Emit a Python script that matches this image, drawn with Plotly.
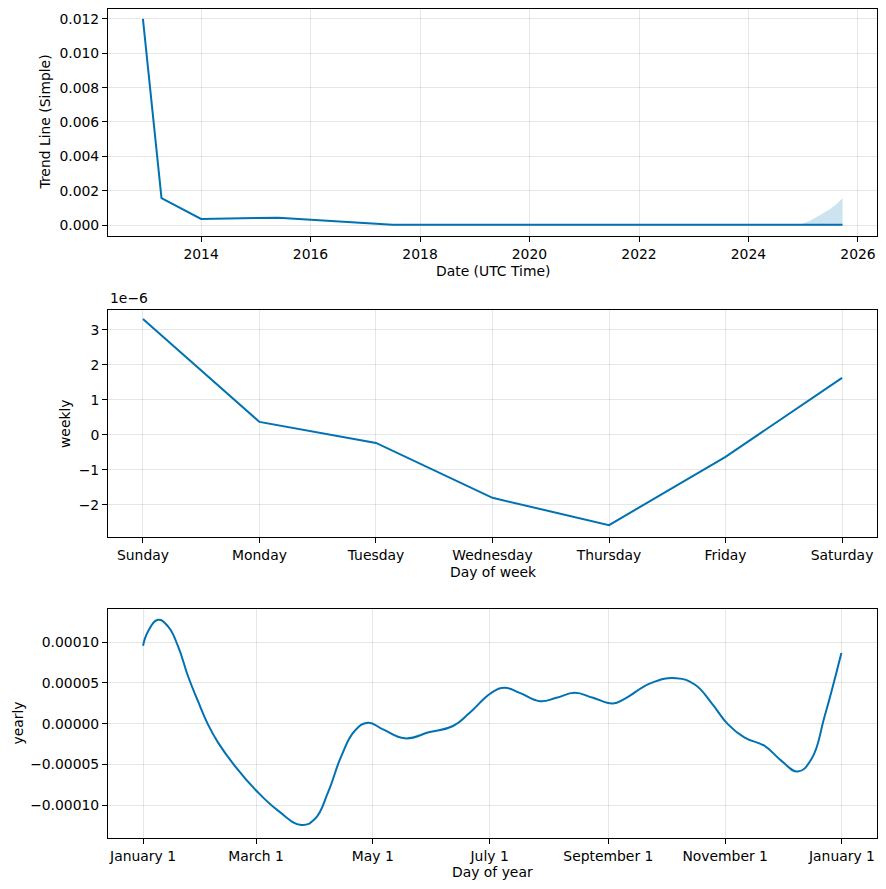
import pandas as pd
import plotly.graph_objects as go
from plotly.subplots import make_subplots

# ---- Trend data ----
trend_dates = ["2012-12-09", "2013-04-12", "2014-01-01", "2015-06-01", "2017-07-01", "2025-09-20"]
trend_values = [0.0120, 0.00156, 0.00035, 0.00043, 0.00002, 0.00001]

band_dates = ["2024-12-10", "2025-02-14", "2025-04-20", "2025-06-25", "2025-08-11", "2025-09-20"]
band_upper = [0.00001, 0.00025, 0.00057, 0.00091, 0.00122, 0.00156]
band_lower = [0.00001, 0.00001, 0.00001, 0.00001, 0.00001, 0.00001]

# ---- Weekly data ----
week_days = ["Sunday", "Monday", "Tuesday", "Wednesday", "Thursday", "Friday", "Saturday"]
weekly_values = [3.31e-6, 0.37e-6, -0.23e-6, -1.80e-6, -2.58e-6, -0.63e-6, 1.63e-6]
weekly_tickvals = [-2e-6, -1e-6, 0, 1e-6, 2e-6, 3e-6]
weekly_ticktext = ["\u22122", "\u22121", "0", "1", "2", "3"]

# ---- Yearly data (day of year offset, value in 1e-5) ----
yearly_days = [0, 2.6, 7.8, 13.1, 18.3, 23.5, 28.7, 33.9, 39.2, 47.9, 59.2, 70.5, 82.7, 89.7,
               96.6, 103.6, 110.5, 117.5, 125.3, 136.7, 149.7, 161.9, 170.6, 181.9, 188.9,
               196.7, 207.2, 215.9, 225.4, 235, 245.4, 251.5, 265.5, 278.5, 288.1, 296.8,
               305.5, 314.2, 324.6, 333.4, 342, 349, 356, 364.7]
yearly_values_e5 = [9.55, 11.3, 12.72, 11.9, 9.47, 5.81, 2.76, -0.08, -2.32, -5.16, -8.21, -10.65,
                    -12.4, -11.67, -8.41, -3.94, -0.89, 0.12, -0.69, -1.79, -1.02, -0.28, 1.34,
                    3.78, 4.39, 3.78, 2.76, 3.17, 3.78, 3.17, 2.48, 3.05, 5.0, 5.57, 4.8, 2.56,
                    -0.08, -1.71, -2.72, -4.55, -5.85, -4.35, 0.94, 8.66]
year_tick_dates = ["2017-01-01", "2017-03-01", "2017-05-01", "2017-07-01", "2017-09-01", "2017-11-01", "2018-01-01"]
year_tick_text = ["January 1", "March 1", "May 1", "July 1", "September 1", "November 1", "January 1"]

LINE = "#0072B2"
GRID = "rgba(128,128,128,0.2)"
FONT = "DejaVu Sans"
FS = 13.9

yearly_dates = [pd.Timestamp("2017-01-01") + pd.Timedelta(days=d) for d in yearly_days]
yearly_values = [v * 1e-5 for v in yearly_values_e5]

fig = make_subplots(rows=3, cols=1)

fig.add_trace(go.Scatter(x=band_dates, y=band_lower, mode="lines", line=dict(width=0),
                         showlegend=False, hoverinfo="skip"), row=1, col=1)
fig.add_trace(go.Scatter(x=band_dates, y=band_upper, mode="lines", line=dict(width=0),
                         fill="tonexty", fillcolor="rgba(0,114,178,0.2)",
                         showlegend=False, hoverinfo="skip"), row=1, col=1)
fig.add_trace(go.Scatter(x=trend_dates, y=trend_values, mode="lines",
                         line=dict(color=LINE, width=2), showlegend=False), row=1, col=1)

fig.add_trace(go.Scatter(x=list(range(7)), y=weekly_values, mode="lines",
                         line=dict(color=LINE, width=2), showlegend=False), row=2, col=1)

fig.add_trace(go.Scatter(x=yearly_dates, y=yearly_values, mode="lines",
                         line=dict(color=LINE, width=2, shape="spline", smoothing=1.3),
                         showlegend=False), row=3, col=1)

common = dict(showline=True, linecolor="black", linewidth=1, mirror=True,
              ticks="outside", ticklen=5, tickcolor="black", tickwidth=1,
              showgrid=True, gridcolor=GRID, gridwidth=1, zeroline=False,
              automargin=False,
              tickfont=dict(family=FONT, size=FS, color="black"))

def py(p):
    return (838 - p) / 829.0

# The page body has an 8px margin, so the figure is shrunk/shifted to compensate.
fig.update_layout(
    width=878, height=881,
    margin=dict(l=100, r=9, t=1, b=51),
    paper_bgcolor="white", plot_bgcolor="white",
    font=dict(family=FONT, size=FS, color="black"),
    showlegend=False,
    xaxis=dict(domain=[0, 1], anchor="y", type="date",
               range=["2012-04-20", "2026-05-08"],
               tickvals=[f"{y}-01-01" for y in range(2014, 2027, 2)],
               ticktext=[str(y) for y in range(2014, 2027, 2)], **common),
    yaxis=dict(domain=[py(236), py(9)], anchor="x", range=[-0.00064, 0.01258],
               tickvals=[0, 0.002, 0.004, 0.006, 0.008, 0.010, 0.012],
               tickformat=".3f", **common),
    xaxis2=dict(domain=[0, 1], anchor="y2", range=[-0.3, 6.3],
                tickvals=list(range(7)), ticktext=week_days, **common),
    yaxis2=dict(domain=[py(537), py(310)], anchor="x2", range=[-2.92e-6, 3.57e-6],
                tickvals=weekly_tickvals, ticktext=weekly_ticktext, **common),
    xaxis3=dict(domain=[0, 1], anchor="y3", type="date",
                range=[pd.Timestamp("2017-01-01") - pd.Timedelta(days=18.3),
                       pd.Timestamp("2017-01-01") + pd.Timedelta(days=383.3)],
                tickvals=year_tick_dates, ticktext=year_tick_text, **common),
    yaxis3=dict(domain=[py(838), py(609)], anchor="x3", range=[-0.000140, 0.0001405],
                tickvals=[-0.0001, -0.00005, 0, 0.00005, 0.0001],
                tickformat=".5f", **common),
)

ann = dict(xref="paper", yref="paper", showarrow=False,
           font=dict(family=FONT, size=FS, color="black"))
fig.add_annotation(text="Date (UTC Time)", x=0.5, y=py(271), xanchor="center", yanchor="middle", **ann)
fig.add_annotation(text="Day of week", x=0.5, y=py(572), xanchor="center", yanchor="middle", **ann)
fig.add_annotation(text="Day of year", x=0.5, y=py(872), xanchor="center", yanchor="middle", **ann)
fig.add_annotation(text="Trend Line (Simple)", x=(45 - 108) / 769, y=py(122.5), textangle=-90,
                   xanchor="center", yanchor="middle", **ann)
fig.add_annotation(text="weekly", x=(65 - 108) / 769, y=py(424), textangle=-90,
                   xanchor="center", yanchor="middle", **ann)
fig.add_annotation(text="yearly", x=(17 - 108) / 769, y=py(723.5), textangle=-90,
                   xanchor="center", yanchor="middle", **ann)
fig.add_annotation(text="1e\u22126", x=0, y=py(298), xanchor="left", yanchor="middle", **ann)

fig.write_html("out.html")
